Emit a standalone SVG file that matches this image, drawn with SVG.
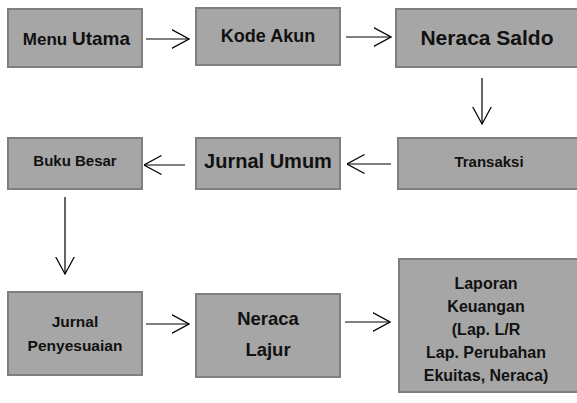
<svg xmlns="http://www.w3.org/2000/svg" width="577" height="403" viewBox="0 0 577 403">
<style>
.box{fill:#a6a6a6;stroke:#7f7f7f;stroke-width:2}
.t{font-family:"Liberation Sans",Arial,sans-serif;font-weight:bold;fill:#111;text-anchor:middle}
.c{stroke:#000;stroke-width:1.2;fill:none}
</style>
<defs>
<marker id="ah" markerUnits="userSpaceOnUse" viewBox="0 0 18 20" markerWidth="18" markerHeight="20" refX="17.5" refY="10" orient="auto">
<path d="M0,0.5 L17.5,10 L0,19.5" fill="none" stroke="#000" stroke-width="1.2"/>
</marker>
</defs>
<rect width="577" height="403" fill="#fff"/>
<g id="menu-utama"><rect class="box" x="8" y="9" width="134" height="58"/><text class="t" y="45"><tspan x="45" font-size="17">Menu</tspan><tspan x="101" font-size="19">Utama</tspan></text></g>
<g id="kode-akun"><rect class="box" x="196" y="8" width="144" height="57"/><text class="t" x="268" y="42" font-size="18">Kode Akun</text></g>
<g id="neraca-saldo"><rect class="box" x="396" y="9" width="190" height="58"/><text class="t" x="487" y="45" font-size="21">Neraca Saldo</text></g>
<g id="buku-besar"><rect class="box" x="8" y="138" width="134" height="51"/><text class="t" x="75" y="166" font-size="15">Buku Besar</text></g>
<g id="jurnal-umum"><rect class="box" x="196" y="138" width="144" height="51"/><text class="t" x="268" y="168" font-size="20">Jurnal Umum</text></g>
<g id="transaksi"><rect class="box" x="398" y="138" width="190" height="51"/><text class="t" x="489" y="167" font-size="15">Transaksi</text></g>
<g id="jurnal-penyesuaian"><rect class="box" x="8" y="292" width="134" height="83"/><text class="t" x="75" y="327" font-size="15.5">Jurnal</text><text class="t" x="75" y="351" font-size="15.5">Penyesuaian</text></g>
<g id="neraca-lajur"><rect class="box" x="196" y="294" width="144" height="83"/><text class="t" x="268" y="325" font-size="18.5">Neraca</text><text class="t" x="268" y="356" font-size="18.5">Lajur</text></g>
<g id="laporan-keuangan"><rect class="box" x="399" y="259" width="190" height="133"/>
<text class="t" x="486" font-size="16"><tspan x="486" y="289">Laporan</tspan><tspan x="486" y="312">Keuangan</tspan><tspan x="486" y="335">(Lap. L/R</tspan><tspan x="486" y="358">Lap. Perubahan</tspan><tspan x="486" y="381">Ekuitas, Neraca)</tspan></text></g>
<g id="connectors">
<line class="c" x1="146" y1="39" x2="189" y2="39" marker-end="url(#ah)"/>
<line class="c" x1="346" y1="37" x2="391" y2="37" marker-end="url(#ah)"/>
<line class="c" x1="482" y1="78" x2="482" y2="124" marker-end="url(#ah)"/>
<line class="c" x1="391" y1="164" x2="347" y2="164" marker-end="url(#ah)"/>
<line class="c" x1="185" y1="165" x2="144" y2="165" marker-end="url(#ah)"/>
<line class="c" x1="65" y1="197" x2="65" y2="274" marker-end="url(#ah)"/>
<line class="c" x1="146" y1="324" x2="189" y2="324" marker-end="url(#ah)"/>
<line class="c" x1="345" y1="322" x2="390" y2="322" marker-end="url(#ah)"/>
</g>
</svg>
